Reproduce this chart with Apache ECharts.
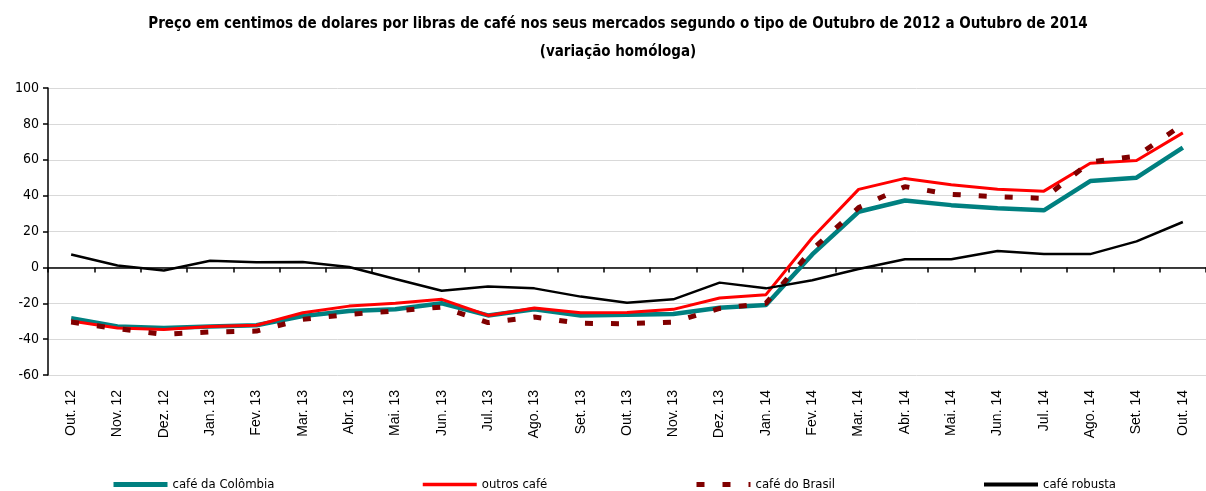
<!DOCTYPE html>
<html>
<head>
<meta charset="utf-8">
<script src="https://cdn.jsdelivr.net/npm/echarts@6/dist/echarts.min.js"></script>
<style>
  html, body { margin: 0; padding: 0; background: #fff; }
  #chart { width: 1206px; height: 491px; }
</style>
</head>
<body>
<div id="chart"></div>
<script>
const months = ['Out. 12', 'Nov. 12', 'Dez. 12', 'Jan. 13', 'Fev. 13', 'Mar. 13', 'Abr. 13', 'Mai. 13',
    'Jun. 13', 'Jul. 13', 'Ago. 13', 'Set. 13', 'Out. 13', 'Nov. 13', 'Dez. 13', 'Jan. 14',
    'Fev. 14', 'Mar. 14', 'Abr. 14', 'Mai. 14', 'Jun. 14', 'Jul. 14', 'Ago. 14', 'Set. 14', 'Out. 14'];

const colombia = [-28.4, -32.9, -33.8, -33, -32.3, -27.1, -24.3, -23.4, -20, -26.8, -23.4, -26.8, -26.4,
    -26, -22.5, -21, 7.2, 31, 37.3, 34.7, 32.9, 31.8, 48.1, 50, 66.7];
const outros = [-29.9, -33.8, -34.6, -33, -32.3, -25.3, -21.6, -20, -17.8, -26.8, -22.7, -25.3, -25.1,
    -23.4, -17.1, -15.2, 16.5, 43.5, 49.6, 46.1, 43.5, 42.5, 58, 59.6, 75];
const brasil = [-30.5, -34.2, -37.3, -36, -35.5, -29, -26.2, -24.3, -22.1, -30.8, -27.7, -31.2, -31.4,
    -30.5, -22.9, -20, 10, 33.3, 45, 40.7, 39.4, 38.5, 58.7, 62, 79.7];
const robusta = [7.2, 1, -1.7, 3.7, 2.8, 3, 0.2, -6.5, -13, -10.6, -11.7, -16.3, -19.7, -17.8, -8.5,
    -11.7, -7.2, -0.9, 4.5, 4.5, 9.1, 7.4, 7.4, 14.5, 25.3];

const yTicks = { min: -60, max: 100, interval: 20 };

const narrow = '"Liberation Sans Narrow", "DejaVu Sans Condensed", sans-serif';

function legendFor(name, left, lineWidth) {
    return {
        data: [name],
        left: left,
        top: 478,
        padding: 0,
        itemWidth: 54,
        itemHeight: 12,
        itemGap: 4,
        itemStyle: { opacity: 0 },
        lineStyle: { width: lineWidth },
        textStyle: { fontFamily: narrow, fontSize: 13, color: '#000', padding: [3, 0, 0, 0] }
    };
}

const chart = echarts.init(document.getElementById('chart'));

const option = {
    animation: false,
    backgroundColor: '#fff',
    title: {
        text: 'Preço em centimos de dolares por libras de café nos seus mercados segundo o tipo de Outubro de 2012 a Outubro de 2014\n(variação homóloga)',
        left: 613,
        textAlign: 'center',
        top: 5,
        textStyle: {
            fontFamily: narrow,
            fontWeight: 'bold',
            fontSize: 15,
            lineHeight: 28,
            color: '#000'
        }
    },
    legend: [
        legendFor('café da Colômbia', 111, 5),
        legendFor('outros café', 421, 3.5),
        legendFor('café do Brasil', 694, 5),
        legendFor('café robusta', 982, 4)
    ],
    grid: { left: 48, right: -3, top: 88, bottom: 116 },
    xAxis: [
        {
            type: 'category',
            data: months,
            boundaryGap: true,
            axisLine: { show: false, onZero: false },
            axisTick: { show: false },
            axisLabel: {
                rotate: 90,
                margin: 15,
                interval: 0,
                fontFamily: '"Liberation Sans", Arial, sans-serif',
                fontSize: 14,
                color: '#000'
            }
        },
        {
            type: 'category',
            data: months,
            boundaryGap: true,
            position: 'bottom',
            axisLine: { show: true, onZero: true, lineStyle: { color: '#000', width: 1.5 } },
            axisTick: { show: true, inside: false, length: 5, interval: 0, lineStyle: { color: '#000', width: 1.5 } },
            axisLabel: { show: false }
        }
    ],
    yAxis: {
        type: 'value',
        min: yTicks.min,
        max: yTicks.max,
        interval: yTicks.interval,
        axisLine: { show: true, lineStyle: { color: '#000', width: 1.5 } },
        axisTick: { show: true, length: 5, lineStyle: { color: '#000', width: 1.5 } },
        axisLabel: { fontFamily: narrow, fontSize: 14, color: '#000', margin: 9 },
        splitLine: { show: true, lineStyle: { color: '#d9d9d9', width: 1 } }
    },
    series: [
        {
            name: 'café da Colômbia',
            type: 'line',
            data: colombia,
            symbol: 'none',
            lineStyle: { color: '#008080', width: 4.5 },
            itemStyle: { color: '#008080' },
            z: 2
        },
        {
            name: 'outros café',
            type: 'line',
            data: outros,
            symbol: 'none',
            lineStyle: { color: '#ff0000', width: 3 },
            itemStyle: { color: '#ff0000' },
            z: 3
        },
        {
            name: 'café do Brasil',
            type: 'line',
            data: brasil,
            symbol: 'none',
            lineStyle: { color: '#800000', width: 5, type: [8, 18], cap: 'butt' },
            itemStyle: { color: '#800000' },
            z: 4
        },
        {
            name: 'café robusta',
            type: 'line',
            data: robusta,
            symbol: 'none',
            lineStyle: { color: '#000000', width: 2.5 },
            itemStyle: { color: '#000000' },
            z: 5
        }
    ]
};

chart.setOption(option);
</script>
</body>
</html>
